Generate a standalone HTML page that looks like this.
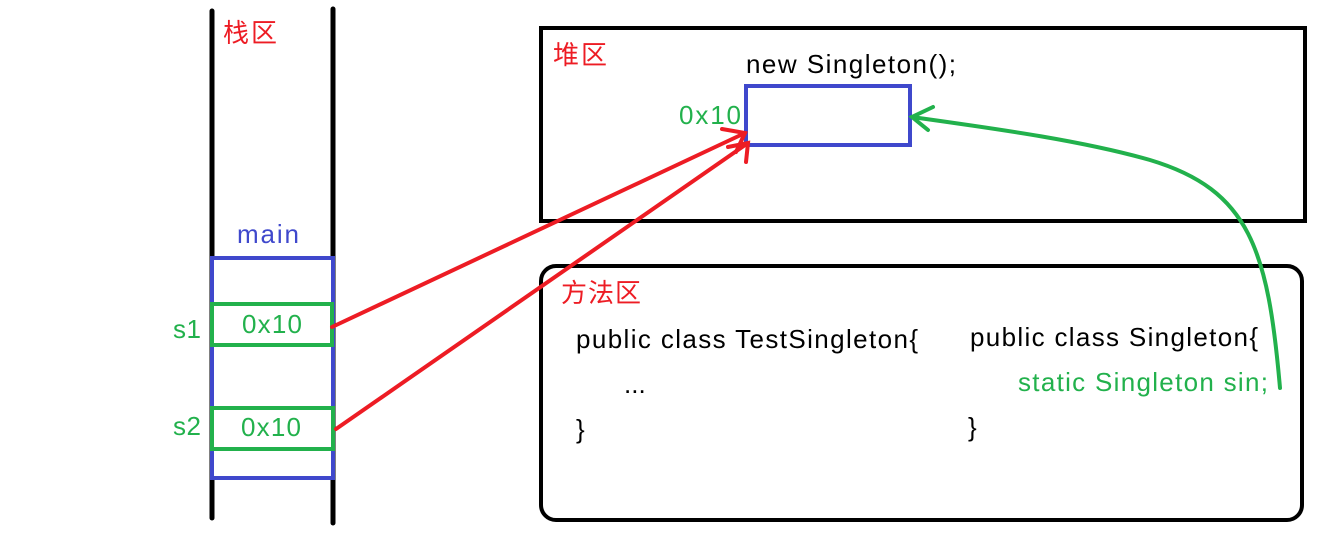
<!DOCTYPE html>
<html><head><meta charset="utf-8"><style>
html,body{margin:0;padding:0;background:#fff;}
svg{display:block}
text{font-family:"Liberation Sans","Noto Sans CJK SC",sans-serif;font-size:26px}
</style></head><body>
<svg width="1341" height="533" viewBox="0 0 1341 533">
<g stroke-linecap="round" fill="none">
<line x1="212" y1="11" x2="212" y2="518" stroke="#000" stroke-width="5"/>
<line x1="333" y1="9" x2="333" y2="523" stroke="#000" stroke-width="5"/>
<rect x="212" y="258" width="121" height="220" stroke="#3f48cc" stroke-width="4" fill="#fff"/>
<rect x="212" y="304" width="120" height="41" stroke="#22b14c" stroke-width="4"/>
<rect x="212" y="408" width="121" height="41" stroke="#22b14c" stroke-width="4"/>
<rect x="541" y="28" width="764" height="193" stroke="#000" stroke-width="4"/>
<rect x="541" y="266" width="761" height="254" rx="15" stroke="#000" stroke-width="4"/>
<rect x="746" y="86" width="164" height="59" stroke="#3f48cc" stroke-width="4"/>
<path d="M332 327 L745 133" stroke="#ed1c24" stroke-width="4"/>
<path d="M722 129 L745 133 L736 152" stroke="#ed1c24" stroke-width="4"/>
<path d="M336 429 L748 143" stroke="#ed1c24" stroke-width="4"/>
<path d="M728 147 L748 143 L746 162" stroke="#ed1c24" stroke-width="4"/>
<path d="M1280 388 C1268 250 1250 190 1150 160 C1080 140 990 128 912 117" stroke="#22b14c" stroke-width="4"/>
<path d="M933 107 L912 117 L928 130" stroke="#22b14c" stroke-width="4"/>
</g>
<g>
<text x="223" y="42" fill="#ed1c24" font-size="25" textLength="54">栈区</text>
<text x="237" y="243" fill="#3f48cc" textLength="62">main</text>
<text x="173" y="338" fill="#22b14c" textLength="28">s1</text>
<text x="242" y="333" fill="#22b14c" textLength="60">0x10</text>
<text x="173" y="435" fill="#22b14c" textLength="28">s2</text>
<text x="241" y="436" fill="#22b14c" textLength="60">0x10</text>
<text x="553" y="64" fill="#ed1c24" font-size="25" textLength="54">堆区</text>
<text x="746" y="73" fill="#000" textLength="210">new Singleton();</text>
<text x="679" y="124" fill="#22b14c" textLength="62">0x10</text>
<text x="561" y="302" fill="#ed1c24" font-size="25" textLength="80">方法区</text>
<text x="576" y="348" fill="#000" textLength="342">public class TestSingleton{</text>
<text x="624" y="393" fill="#000">...</text>
<text x="576" y="438" fill="#000">}</text>
<text x="970" y="346" fill="#000" textLength="288">public class Singleton{</text>
<text x="1018" y="391" fill="#22b14c" textLength="250">static Singleton sin;</text>
<text x="968" y="436" fill="#000">}</text>
</g>
</svg>
</body></html>
